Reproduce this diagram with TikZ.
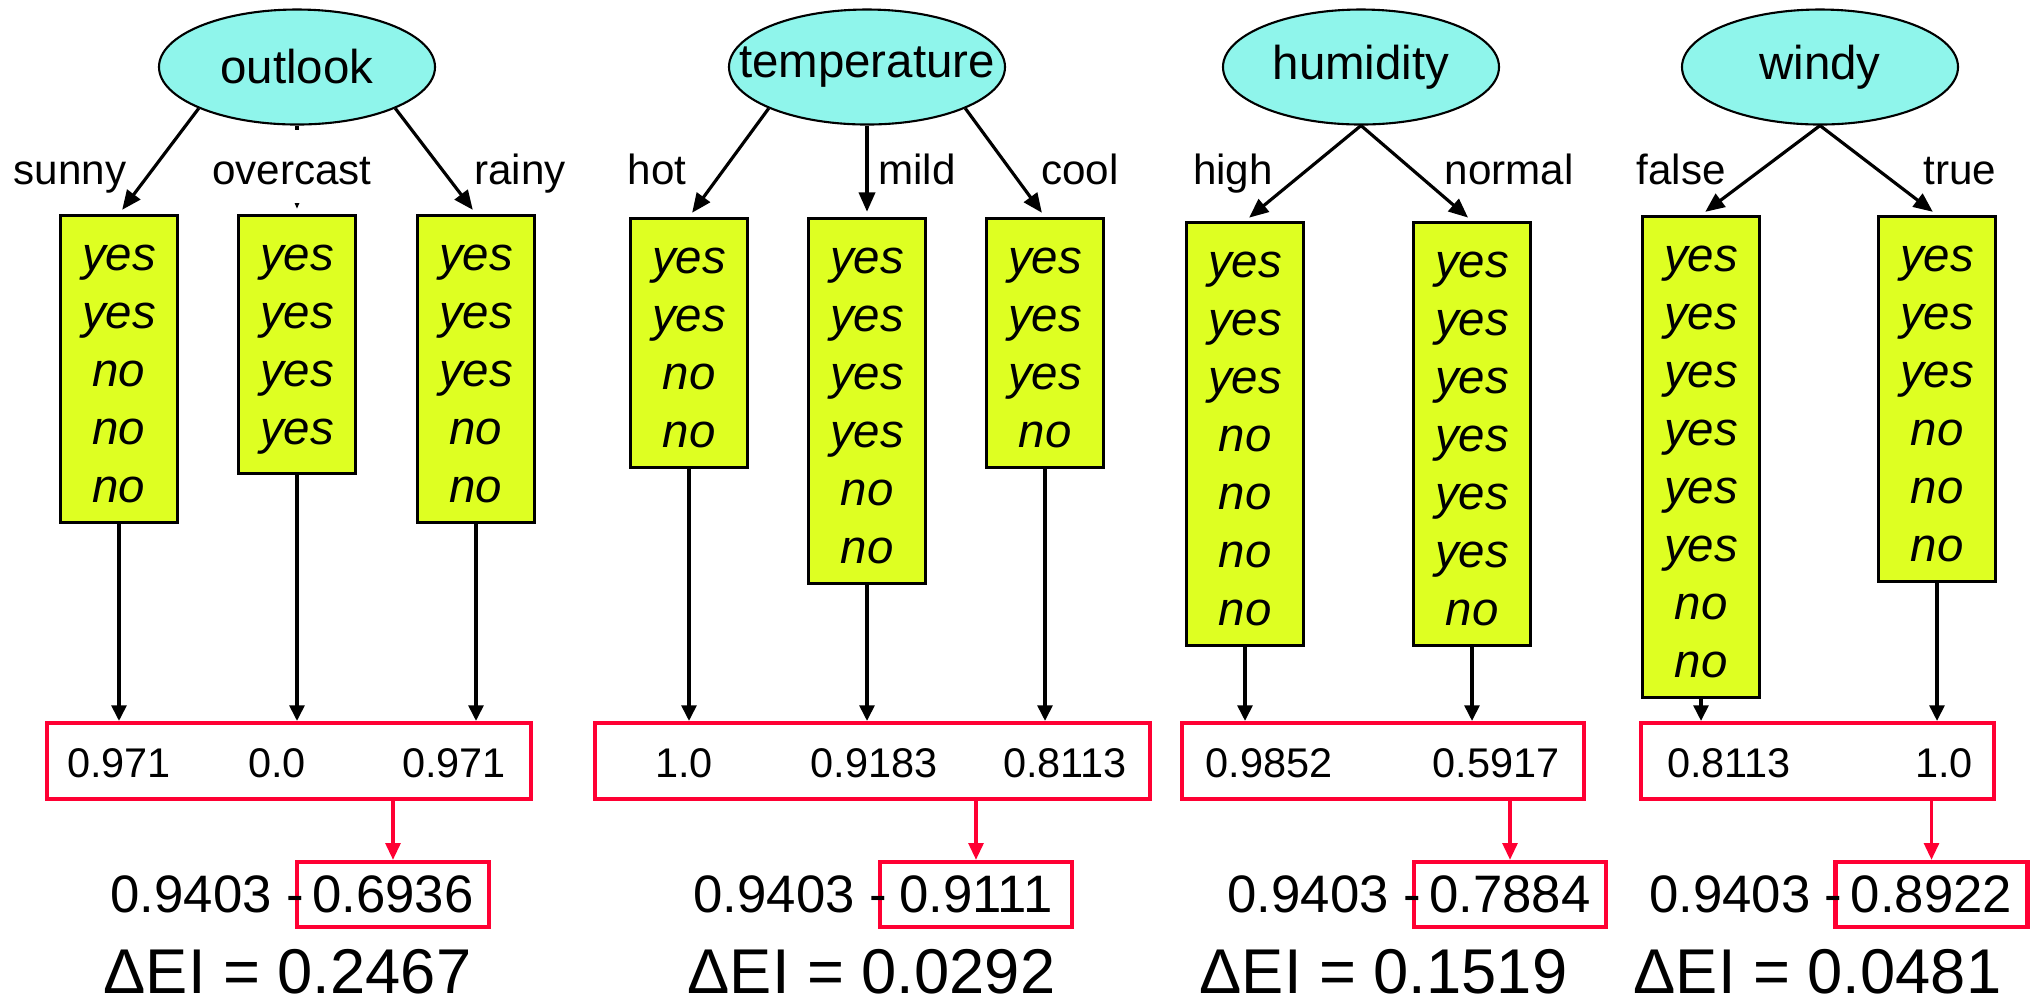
\documentclass[tikz,border=0pt]{standalone}
\usepackage{fontspec}
\setmainfont{Liberation Sans}
\usetikzlibrary{arrows.meta,positioning,shapes.geometric}

\definecolor{attrcyan}{RGB}{143,245,235}
\definecolor{leafyellow}{RGB}{222,255,34}
\definecolor{gainred}{RGB}{255,0,51}

% taller first row, so the classes sit a bit lower in their box
\newcommand{\leafstrut}{\rule{0pt}{10pt}}

\tikzset{
  attr/.style={ellipse, draw, line width=0.6pt, fill=attrcyan, minimum width=2.76cm,
    minimum height=1.15cm, inner sep=0pt, font=\fontsize{13.5}{16}\selectfont},
  branchlbl/.style={anchor=base, inner sep=1pt, font=\fontsize{12}{14}\selectfont},
  leaf/.style={anchor=north, draw, line width=0.8pt, fill=leafyellow, minimum width=1.17cm,
    inner xsep=2pt, inner ysep=5.6pt, align=center,
    font=\fontsize{13.5}{16.5}\selectfont\itshape},
  splitarrow/.style={-{Triangle[length=5.5pt,width=4.6pt]}, line width=0.9pt, shorten >=1.5pt},
  droparrow/.style={-{Triangle[length=4.4pt,width=4.2pt]}, line width=0.9pt},
  entbox/.style={draw=gainred, line width=1.2pt, minimum height=0.76cm},
  entval/.style={anchor=base, font=\fontsize{11.8}{14}\selectfont},
  gainbox/.style={draw=gainred, line width=1.2pt, minimum width=1.92cm, minimum height=0.65cm,
    inner sep=0pt, font=\fontsize{15}{18}\selectfont},
  gaintxt/.style={inner xsep=0pt, font=\fontsize{15}{18}\selectfont},
  gainarrow/.style={gainred, -{Triangle[length=4.8pt,width=4.2pt]}, line width=1pt},
  deltatxt/.style={anchor=base west, inner sep=0pt, font=\fontsize{18}{21}\selectfont}
}

\begin{document}
\begin{tikzpicture}
    \useasboundingbox (0,0) rectangle (20.35,-10.06);

    % Attributes
    \node[attr] (outlook) at (2.97,-0.67) {outlook};
    \node[attr] (temp) at (8.67,-0.67) {\makebox[0pt]{temperature}};
    \node[attr] (humid) at (13.61,-0.67) {humidity};
    \node[attr] (windy) at (18.20,-0.67) {windy};

    % Class labels of each branch
    \node[leaf] (sunny) at (1.19,-2.14) {\leafstrut yes\\yes\\no\\no\\no};
    \node[leaf] (overc) at (2.97,-2.14) {\leafstrut yes\\yes\\yes\\yes};
    \node[leaf] (rainy) at (4.76,-2.14) {\leafstrut yes\\yes\\yes\\no\\no};

    \node[leaf] (hot) at (6.89,-2.17) {\leafstrut yes\\yes\\no\\no};
    \node[leaf] (mild) at (8.67,-2.17) {\leafstrut yes\\yes\\yes\\yes\\no\\no};
    \node[leaf] (cool) at (10.45,-2.17) {\leafstrut yes\\yes\\yes\\no};

    \node[leaf] (high) at (12.45,-2.21) {\leafstrut yes\\yes\\yes\\no\\no\\no\\no};
    \node[leaf] (normal) at (14.72,-2.21) {\leafstrut yes\\yes\\yes\\yes\\yes\\yes\\no};

    \node[leaf] (wfalse) at (17.01,-2.15) {\leafstrut yes\\yes\\yes\\yes\\yes\\yes\\no\\no};
    \node[leaf] (wtrue) at (19.37,-2.15) {\leafstrut yes\\yes\\yes\\no\\no\\no};

    % Splits
    \draw[splitarrow] (outlook.south west) -- (sunny.north);
    \draw[splitarrow] (outlook.south) -- (overc.north);
    \draw[splitarrow] (outlook.south east) -- (rainy.north);
    \draw[splitarrow] (temp.south west) -- (hot.north);
    \draw[splitarrow] (temp.south) -- (mild.north);
    \draw[splitarrow] (temp.south east) -- (cool.north);
    \draw[splitarrow] (humid.south) -- (high.north);
    \draw[splitarrow] (humid.south) -- (normal.north);
    \draw[splitarrow] (windy.south) -- (wfalse.north);
    \draw[splitarrow] (windy.south) -- (wtrue.north);

    \node[branchlbl] at (0.70,-1.84) {sunny};
    \node[branchlbl, fill=white, text height=13pt, text depth=3pt, inner ysep=2.4pt] (ovlbl) at (2.92,-1.84) {overcast};
    \node[branchlbl] at (5.20,-1.84) {rainy};
    \node[branchlbl] at (6.57,-1.84) {hot};
    \node[branchlbl] at (9.17,-1.84) {mild};
    \node[branchlbl] at (10.80,-1.84) {cool};
    \node[branchlbl] at (12.33,-1.84) {high};
    \node[branchlbl] at (15.09,-1.84) {normal};
    \node[branchlbl] at (16.81,-1.84) {false};
    \node[branchlbl] at (19.60,-1.84) {true};

    % Entropy of each branch
    \node[entbox, minimum width=4.84cm] (outE) at (2.89,-7.61) {};
    \node[entbox, minimum width=5.55cm] (tempE) at (8.725,-7.61) {};
    \node[entbox, minimum width=4.02cm] (humE) at (13.83,-7.61) {};
    \node[entbox, minimum width=3.53cm] (windE) at (18.175,-7.61) {};

    \foreach \leaf/\ent in {sunny/outE, overc/outE, rainy/outE, hot/tempE, mild/tempE, cool/tempE,
                            high/humE, normal/humE, wfalse/windE, wtrue/windE}
        \draw[droparrow] (\leaf.south) -- (\leaf.south |- \ent.north);

    \node[entval] at (1.19,-7.77) {0.971};
    \node[entval] at (2.77,-7.77) {0.0};
    \node[entval] at (4.54,-7.77) {0.971};
    \node[entval] at (6.84,-7.77) {1.0};
    \node[entval] at (8.74,-7.77) {0.9183};
    \node[entval] at (10.65,-7.77) {0.8113};
    \node[entval] at (12.69,-7.77) {0.9852};
    \node[entval] at (14.96,-7.77) {0.5917};
    \node[entval] at (17.29,-7.77) {0.8113};
    \node[entval] at (19.44,-7.77) {1.0};

    % Weighted entropy and gain
    \node[gainbox] (outG) at (3.93,-8.945) {0.6936};
    \node[gainbox] (tempG) at (9.76,-8.945) {0.9111};
    \node[gainbox] (humG) at (15.10,-8.945) {0.7884};
    \node[gainbox] (windG) at (19.315,-8.945) {0.8922};

    \foreach \g/\e in {outG/outE, tempG/tempE, humG/humE, windG/windE}
        \draw[gainarrow] (\g.north |- \e.south) -- (\g.north);

    \node[gaintxt, left=-2.8pt of outG] (outX) {0.9403 -};
    \node[gaintxt, left=-2.8pt of tempG] (tempX) {0.9403 -};
    \node[gaintxt, left=-2.8pt of humG] (humX) {0.9403 -};
    \node[gaintxt, left=-2.8pt of windG] (windX) {0.9403 -};

    \node[deltatxt] (outD) at (1.03,-9.93) {ΔEI = 0.2467};
    \node[deltatxt] (tempD) at (6.87,-9.93) {ΔEI = 0.0292};
    \node[deltatxt] (humD) at (11.99,-9.93) {ΔEI = 0.1519};
    \node[deltatxt] (windD) at (16.33,-9.93) {ΔEI = 0.0481};
\end{tikzpicture}
\end{document}
